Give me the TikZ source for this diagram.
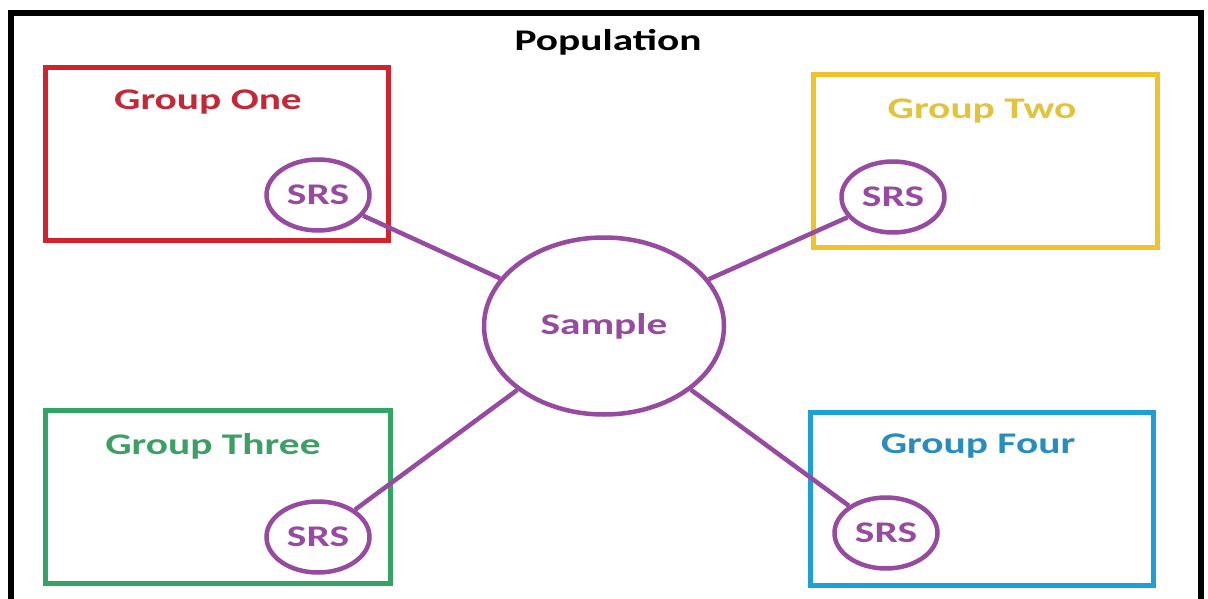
\documentclass[tikz,border=0pt]{standalone}
\usepackage{fontspec}
\setmainfont{Carlito}
\usetikzlibrary{shapes.geometric}
\definecolor{cpurple}{RGB}{150,75,160}
\definecolor{cred}{RGB}{210,35,45}
\definecolor{credt}{RGB}{195,40,55}
\definecolor{cyellow}{RGB}{240,195,45}
\definecolor{cyellowt}{RGB}{225,195,60}
\definecolor{cgreen}{RGB}{50,165,100}
\definecolor{cgreent}{RGB}{60,160,100}
\definecolor{cblue}{RGB}{30,160,215}
\definecolor{cbluet}{RGB}{40,140,190}
\newcommand{\wide}[1]{\scalebox{1.38}[1]{\fontsize{30}{32}\selectfont\bfseries #1}}
\tikzset{
  groupbox/.style={draw, line width=5pt, fill=none},
  lbl/.style={inner sep=0pt, anchor=center},
  srs/.style={draw=cpurple, line width=4.5pt, ellipse, minimum width=103pt, minimum height=71pt, inner sep=0pt, text=cpurple, fill=white},
  sample/.style={draw=cpurple, line width=4.5pt, ellipse, minimum width=240pt, minimum height=177pt, inner sep=0pt, text=cpurple, fill=white},
  link/.style={draw=cpurple, line width=4.5pt}
}
\begin{document}
\begin{tikzpicture}[x=1pt, y=-1pt]
\useasboundingbox (0,0) rectangle (1208,599);
\fill[white] (0,0) rectangle (1208,599);
\begin{scope}
\clip (0,0) rectangle (1208,599);
\draw[line width=6pt] (11,620) -- (11,13) -- (1201,13) -- (1201,620);
\end{scope}
\node[lbl] (pop) at (608,42) {\wide{Population}};
% group boxes
\draw[groupbox, cred]    (45,68)   rectangle (388,240);
\draw[groupbox, cyellow] (813,75)  rectangle (1157,247);
\draw[groupbox, cgreen]  (45,410)  rectangle (390,583);
\draw[groupbox, cblue]   (810,412) rectangle (1153,585);
\node[lbl, text=credt]    (g1) at (208,102) {\wide{Group One}};
\node[lbl, text=cyellowt] (g2) at (982,111) {\wide{Group Two}};
\node[lbl, text=cgreent]  (g3) at (213,446) {\wide{Group Three}};
\node[lbl, text=cbluet]   (g4) at (978,446) {\wide{Group Four}};
% sample and srs
\node[sample] (s) at (604,326) {\wide{Sample}};
\node[srs] (r1) at (318,195) {\wide{SRS}};
\node[srs] (r2) at (893,197) {\wide{SRS}};
\node[srs] (r3) at (318,537) {\wide{SRS}};
\node[srs] (r4) at (886,533) {\wide{SRS}};
\draw[link] (r1) -- (s);
\draw[link] (r2) -- (s);
\draw[link] (r3) -- (s);
\draw[link] (r4) -- (s);
\end{tikzpicture}
\end{document}
